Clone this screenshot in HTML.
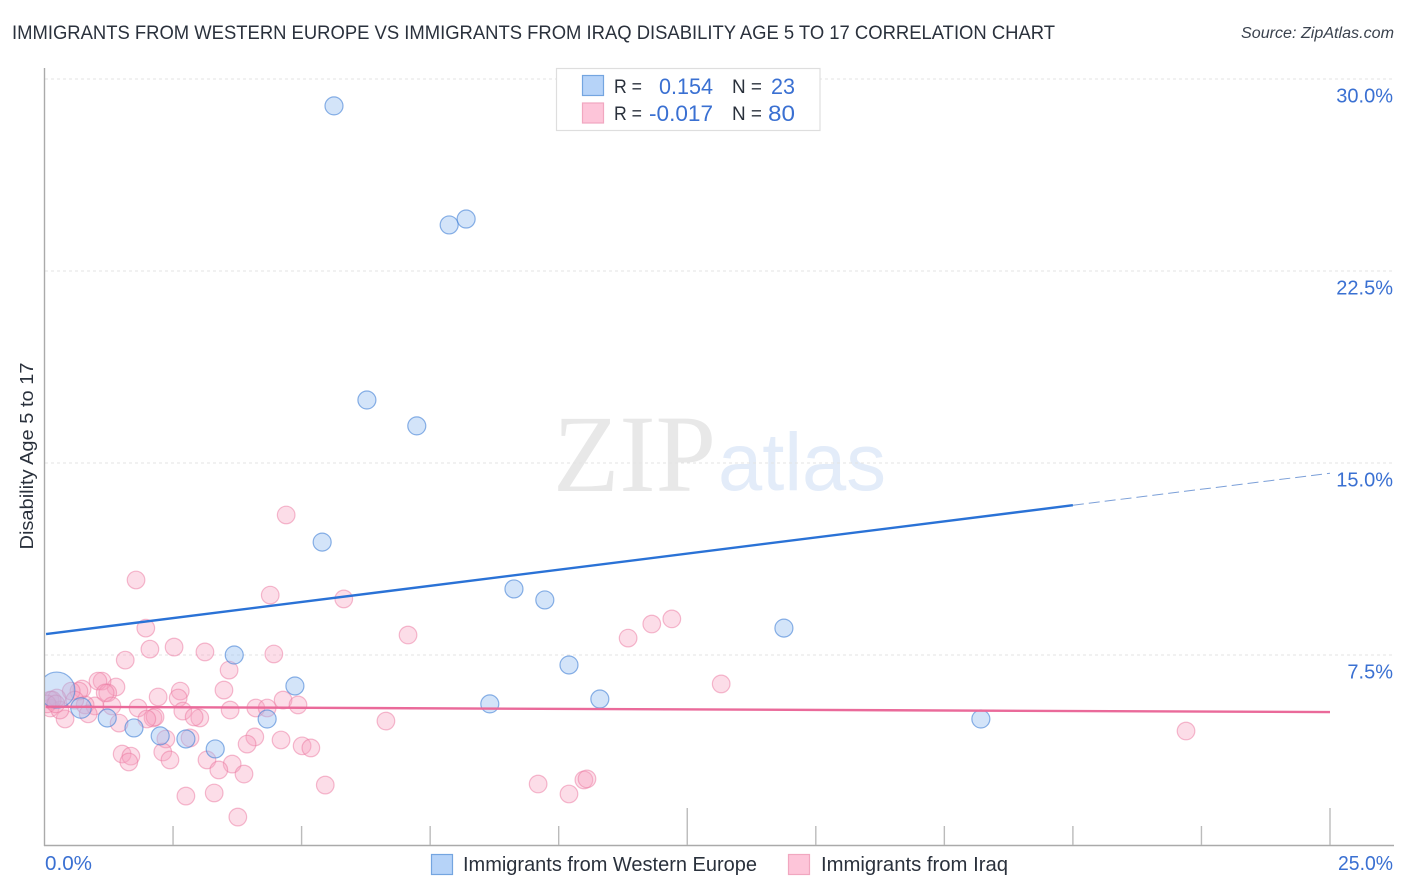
<!DOCTYPE html>
<html>
<head>
<meta charset="utf-8">
<style>
html,body{margin:0;padding:0;background:#fff;}
svg{display:block;font-family:"Liberation Sans",sans-serif;}
</style>
</head>
<body>
<svg id="chart" width="1406" height="892" viewBox="0 0 1406 892" xmlns="http://www.w3.org/2000/svg">
  <defs>
    <clipPath id="plot-clip"><rect x="45" y="60" width="1350" height="786"/></clipPath>
  </defs>
  <rect width="1406" height="892" fill="#fff"/>
  <text x="12" y="39" font-size="19.5" fill="#2a313c" textLength="1043" lengthAdjust="spacingAndGlyphs">IMMIGRANTS FROM WESTERN EUROPE VS IMMIGRANTS FROM IRAQ DISABILITY AGE 5 TO 17 CORRELATION CHART</text>
  <text x="1394" y="38" font-size="15.5" font-style="italic" fill="#3a424e" text-anchor="end" textLength="153" lengthAdjust="spacingAndGlyphs">Source: ZipAtlas.com</text>

  <g>
    <text x="553" y="491" font-family="'Liberation Serif',serif" font-size="110" fill="#e8e8e8" textLength="163" lengthAdjust="spacingAndGlyphs">ZIP</text>
    <text x="718" y="490" font-size="82" fill="#e3ecf9" textLength="168" lengthAdjust="spacingAndGlyphs">atlas</text>
  </g>

  <g id="grid"></g>
  <g id="axes"></g>
  <g id="ytick-labels"></g>
  <g id="points-iraq" clip-path="url(#plot-clip)"></g>
  <g id="points-western" clip-path="url(#plot-clip)"></g>
  <g id="trends"></g>

  <text transform="translate(33,456) rotate(-90)" font-size="18" fill="#2a313c" text-anchor="middle" textLength="187" lengthAdjust="spacingAndGlyphs">Disability Age 5 to 17</text>
  <text x="45" y="870" font-size="20" fill="#3a70d2" textLength="47" lengthAdjust="spacingAndGlyphs">0.0%</text>
  <text x="1393" y="870" font-size="20" fill="#3a70d2" text-anchor="end" textLength="55" lengthAdjust="spacingAndGlyphs">25.0%</text>

  <g>
    <rect x="556.5" y="68.5" width="263.5" height="62" fill="#fff" stroke="#dedede" stroke-width="1.2"/>
    <rect x="582.5" y="75.5" width="21" height="20" fill="#b6d3f8" stroke="#74a5e0" stroke-width="1.2"/>
    <rect x="582.5" y="103" width="21" height="20" fill="#fdc5d9" stroke="#f1a7c0" stroke-width="1.2"/>
    <text x="614" y="93" font-size="19" fill="#2a313c" textLength="28" lengthAdjust="spacingAndGlyphs">R =</text>
    <text x="713" y="94" font-size="22" fill="#3a70d2" text-anchor="end" textLength="54" lengthAdjust="spacingAndGlyphs">0.154</text>
    <text x="732" y="93" font-size="19" fill="#2a313c" textLength="30" lengthAdjust="spacingAndGlyphs">N =</text>
    <text x="795" y="94" font-size="22" fill="#3a70d2" text-anchor="end" textLength="24" lengthAdjust="spacingAndGlyphs">23</text>
    <text x="614" y="120" font-size="19" fill="#2a313c" textLength="28" lengthAdjust="spacingAndGlyphs">R =</text>
    <text x="713" y="121" font-size="22" fill="#3a70d2" text-anchor="end" textLength="64" lengthAdjust="spacingAndGlyphs">-0.017</text>
    <text x="732" y="120" font-size="19" fill="#2a313c" textLength="30" lengthAdjust="spacingAndGlyphs">N =</text>
    <text x="795" y="121" font-size="22" fill="#3a70d2" text-anchor="end" textLength="27" lengthAdjust="spacingAndGlyphs">80</text>
  </g>

  <g>
    <rect x="431.5" y="854.5" width="21" height="20" fill="#b6d3f8" stroke="#74a5e0" stroke-width="1.2"/>
    <text x="463" y="871" font-size="20" fill="#2a313c" textLength="294" lengthAdjust="spacingAndGlyphs">Immigrants from Western Europe</text>
    <rect x="788.5" y="854.5" width="21" height="20" fill="#fdc5d9" stroke="#f1a7c0" stroke-width="1.2"/>
    <text x="821" y="871" font-size="20" fill="#2a313c" textLength="187" lengthAdjust="spacingAndGlyphs">Immigrants from Iraq</text>
  </g>
</svg>

<script>
// Chart data (percent values)
var yTickValues = [7.5, 15, 22.5, 30];
var yTickLabels = ["7.5%", "15.0%", "22.5%", "30.0%"];
var xTickValues = [0, 2.5, 5, 7.5, 10, 12.5, 15, 17.5, 20, 22.5, 25];
var xMajorTicks = [12.5, 25];

var westernX = [5.63,7.87,8.20,6.27,7.24,5.40,9.13,9.73,14.38,3.69,10.20,4.87,10.80,8.66,4.33,18.21,1.22,1.74,2.25,2.75,3.32,0.71,0.24];
var westernY = [28.95,24.30,24.53,17.46,16.45,11.91,10.08,9.65,8.55,7.50,7.11,6.29,5.78,5.59,5.00,5.00,5.04,4.65,4.34,4.22,3.83,5.43,6.13];
var westernWeight = [1,1,1,1,1,1,1,1,1,1,1,1,1,1,1,1,1,1,1,1,1,1.3,4];

var iraqX = [1.97,2.05,2.52,3.12,4.46,1.57,3.59,3.49,2.64,2.60,2.21,1.39,1.12,1.04,0.73,0.67,0.52,1.23,1.18,1.82,1.31,0.98,0.79,2.69,2.11,2.15,1.99,3.61,4.11,4.33,4.64,4.93,3.02,2.91,1.45,0.85,0.40,0.11,0.30,0.11,0.24,0.15,2.36,2.83,4.09,3.94,4.60,5.01,5.18,1.51,1.68,1.64,2.30,2.44,3.16,3.65,3.39,3.88,5.46,2.75,3.30,3.76,4.70,1.78,4.39,5.82,7.07,11.35,11.81,12.20,13.16,6.64,9.60,10.20,10.49,10.55,22.20,0.05,0.59,0.22];
var iraqY = [8.55,7.73,7.81,7.62,7.54,7.30,6.91,6.13,6.09,5.82,5.86,6.25,6.48,6.48,6.17,6.09,6.09,6.02,6.02,5.43,5.51,5.51,5.55,5.31,5.04,5.08,5.00,5.35,5.43,5.43,5.74,5.55,5.04,5.08,4.84,5.20,5.00,5.43,5.35,5.74,5.82,5.74,4.22,4.26,4.30,4.02,4.18,3.95,3.87,3.63,3.55,3.32,3.71,3.40,3.40,3.24,3.01,2.85,2.42,1.99,2.11,1.17,12.97,10.43,9.84,9.69,8.28,8.16,8.71,8.91,6.37,4.92,2.46,2.07,2.62,2.66,4.53,5.59,5.74,5.59];

var westernTrendX = [0.03, 20.0];
var westernTrendY = [8.32, 13.35];
var westernDashX = [20.0, 25.0];
var westernDashY = [13.35, 14.6];
var iraqTrendX = [0.03, 25.0];
var iraqTrendY = [5.48, 5.27];

// Axis functions
function xScale(v) { return 44.5 + v * 51.42; }
function yScale(v) { return 847 - v * 25.6; }

var NS = 'http://www.w3.org/2000/svg';
function make(parent, tag, attrs) {
  var el = document.createElementNS(NS, tag);
  for (var k in attrs) { el.setAttribute(k, attrs[k]); }
  parent.appendChild(el);
  return el;
}

var gridG = document.getElementById('grid');
var axesG = document.getElementById('axes');
var labelG = document.getElementById('ytick-labels');
var iraqG = document.getElementById('points-iraq');
var westernG = document.getElementById('points-western');
var trendG = document.getElementById('trends');

yTickValues.forEach(function (v, i) {
  var line = make(gridG, 'line', {x1: 45, x2: 1394, y1: yScale(v), y2: yScale(v), stroke: '#e3e3e3', 'stroke-width': 1, 'stroke-dasharray': '3 3'});
  
  
  var t = make(labelG, 'text', {x: 1393, y: yScale(v) + 23.5, 'font-size': 20, fill: '#3a70d2', 'text-anchor': 'end'});
  t.textContent = yTickLabels[i];
  
  
});

var yAxis = make(axesG, 'line', {x1: 44.5, x2: 44.5, y1: 68, y2: 846, stroke: '#aaa', 'stroke-width': 1.4});


var xAxis = make(axesG, 'line', {x1: 44, x2: 1394, y1: 845.5, y2: 845.5, stroke: '#aaa', 'stroke-width': 1.4});


xTickValues.forEach(function (v) {
  if (v === 0) { return; }
  var top = xMajorTicks.indexOf(v) >= 0 ? 808 : 826;
  var tick = make(axesG, 'line', {x1: xScale(v), x2: xScale(v), y1: top, y2: 845, stroke: '#bbb', 'stroke-width': 1.4});
  
  
});

iraqX.forEach(function (v, i) {
  var c = make(iraqG, 'circle', {cx: xScale(v), cy: yScale(iraqY[i]), r: 8.8, fill: 'rgba(248,160,190,0.36)', stroke: 'rgba(236,120,160,0.5)', 'stroke-width': 1.2});
  
  
});

westernX.forEach(function (v, i) {
  var c = make(westernG, 'circle', {cx: xScale(v), cy: yScale(westernY[i]), r: 9 * Math.sqrt(westernWeight[i]), fill: 'rgba(150,190,240,0.42)', stroke: 'rgba(70,130,215,0.62)', 'stroke-width': 1.2});
  
  
});

var blueLine = make(trendG, 'line', {x1: xScale(westernTrendX[0]), y1: yScale(westernTrendY[0]), x2: xScale(westernTrendX[1]), y2: yScale(westernTrendY[1]), stroke: '#2a72d6', 'stroke-width': 2.4});


var blueDash = make(trendG, 'line', {x1: xScale(westernDashX[0]), y1: yScale(westernDashY[0]), x2: xScale(westernDashX[1]), y2: yScale(westernDashY[1]), stroke: '#7b9fd8', 'stroke-width': 1, 'stroke-dasharray': '11 5'});


var pinkLine = make(trendG, 'line', {x1: xScale(iraqTrendX[0]), y1: yScale(iraqTrendY[0]), x2: xScale(iraqTrendX[1]), y2: yScale(iraqTrendY[1]), stroke: '#ea6a9a', 'stroke-width': 2.4});


</script>
</body>
</html>
